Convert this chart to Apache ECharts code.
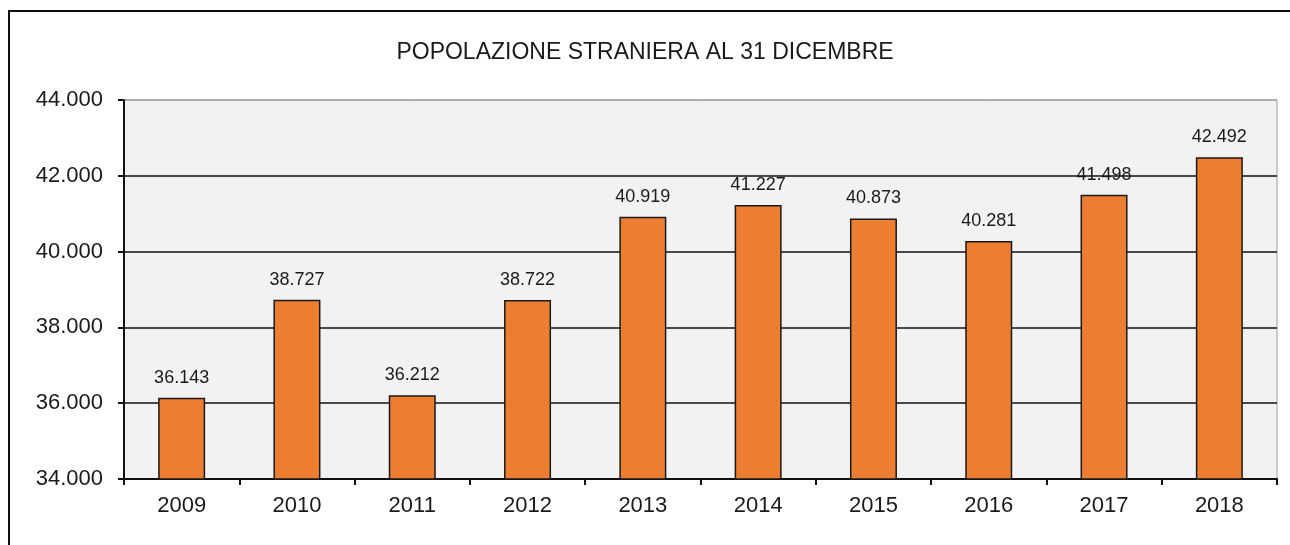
<!DOCTYPE html>
<html>
<head>
<meta charset="utf-8">
<script src="https://cdn.jsdelivr.net/npm/echarts@6/dist/echarts.min.js"></script>
<style>
  html, body { margin: 0; padding: 0; background: #fff; }
  #chart { width: 1290px; height: 545px; }
</style>
</head>
<body>
<div id="chart"></div>
<script>
var years = ["2009", "2010", "2011", "2012", "2013", "2014", "2015", "2016", "2017", "2018"];
var stranieri = [36143, 38727, 36212, 38722, 40919, 41227, 40873, 40281, 41498, 42492];
var yMin = 34000;
var yMax = 44000;
var yStep = 2000;

// numeri in formato italiano: 36.143
function fmt(v) {
  return String(v).replace(/\B(?=(\d{3})+(?!\d))/g, ".");
}

var FONT = "Liberation Sans, Arial, sans-serif";
var chart = echarts.init(document.getElementById("chart"));

var option = {
  backgroundColor: "#fff",
  animation: false,
  title: {
    text: "POPOLAZIONE STRANIERA AL 31 DICEMBRE",
    left: "center",
    top: 36,
    textStyle: {
      color: "#1a1a1a",
      fontFamily: FONT,
      fontSize: 23,
      fontWeight: "normal"
    }
  },
  graphic: [
    {
      type: "rect",
      shape: { x: 9, y: 11, width: 1400, height: 700 },
      style: { fill: null, stroke: "#111", lineWidth: 2 },
      silent: true
    }
  ],
  grid: {
    left: 124,
    right: 13,
    top: 100,
    bottom: 66,
    outerBoundsMode: "none",
    show: true,
    backgroundColor: "#f2f2f2",
    borderColor: "#a0a0a0",
    borderWidth: 1
  },
  xAxis: {
    type: "category",
    data: years,
    axisLine: { lineStyle: { color: "#111", width: 2 } },
    axisTick: { show: true, length: 6, lineStyle: { color: "#111", width: 2 } },
    axisLabel: {
      color: "#1a1a1a",
      fontFamily: FONT,
      fontSize: 22,
      margin: 16
    }
  },
  yAxis: {
    type: "value",
    min: yMin,
    max: yMax,
    interval: yStep,
    axisLine: { show: true, lineStyle: { color: "#111", width: 2 } },
    axisTick: { show: true, length: 6, lineStyle: { color: "#111", width: 2 } },
    axisLabel: {
      color: "#1a1a1a",
      fontFamily: FONT,
      fontSize: 22,
      margin: 21,
      formatter: function (v) { return fmt(v); }
    },
    splitLine: {
      show: true,
      lineStyle: {
        color: ["#111", "#111", "#111", "#111", "#111", "#a0a0a0"],
        width: 1.5
      }
    }
  },
  series: [
    {
      name: "Popolazione straniera",
      type: "bar",
      data: stranieri,
      barWidth: 47,
      itemStyle: {
        color: "#ed7d31",
        borderColor: "#1a1a1a",
        borderWidth: 1.5
      },
      label: {
        show: true,
        position: "top",
        distance: 11,
        color: "#1a1a1a",
        fontFamily: FONT,
        fontSize: 18,
        formatter: function (p) { return fmt(p.value); }
      }
    }
  ]
};

chart.setOption(option);
</script>
</body>
</html>
